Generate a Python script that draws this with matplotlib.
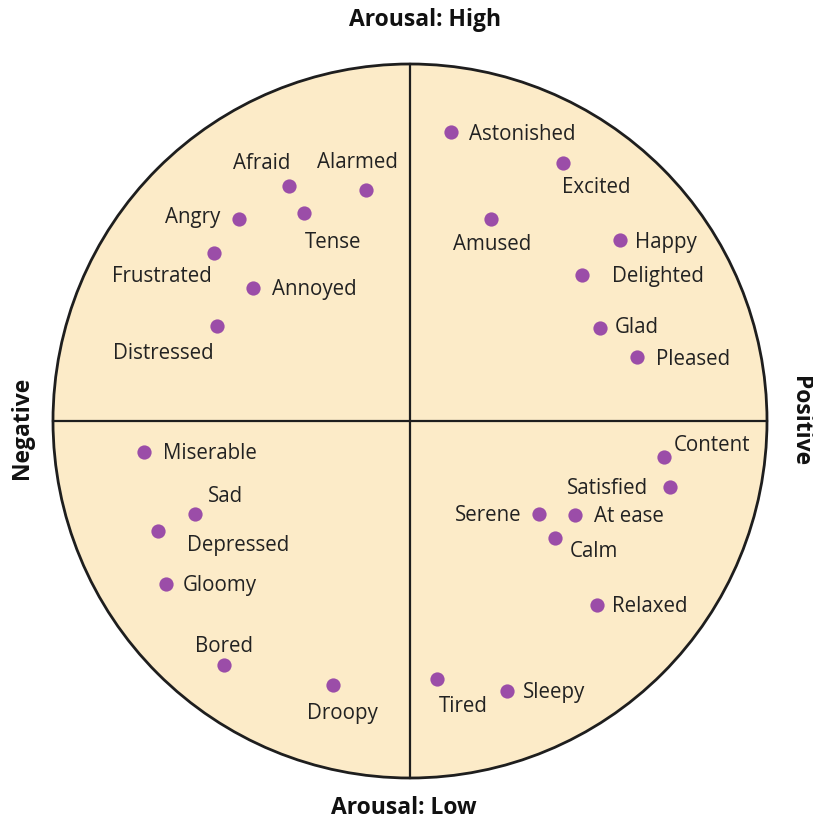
import matplotlib
matplotlib.use("Agg")
import matplotlib.pyplot as plt
from matplotlib.patches import Circle

# Emotion words on the valence (x) / arousal (y) plane, unit circle
words = ["Afraid", "Alarmed", "Angry", "Tense", "Frustrated", "Annoyed", "Distressed",
         "Astonished", "Excited", "Amused", "Happy", "Delighted", "Glad", "Pleased",
         "Miserable", "Sad", "Depressed", "Gloomy", "Bored", "Droopy",
         "Content", "Satisfied", "Serene", "At ease", "Calm", "Relaxed", "Tired", "Sleepy"]
valence = [-0.339, -0.123, -0.479, -0.297, -0.549, -0.440, -0.541,
           0.115, 0.429, 0.227, 0.588, 0.482, 0.532, 0.636,
           -0.745, -0.602, -0.706, -0.683, -0.521, -0.216,
           0.711, 0.728, 0.361, 0.462, 0.406, 0.524, 0.076, 0.272]
arousal = [0.658, 0.647, 0.566, 0.583, 0.471, 0.373, 0.266,
           0.810, 0.723, 0.566, 0.507, 0.409, 0.261, 0.179,
           -0.087, -0.261, -0.308, -0.457, -0.683, -0.739,
           -0.101, -0.185, -0.261, -0.263, -0.328, -0.515, -0.723, -0.756]
axis_labels = {"top": "Arousal: High", "bottom": "Arousal: Low",
               "left": "Negative", "right": "Positive"}

# label placement (pixel offsets, y downward) and alignment
label_dx = [-27, -9, -19, 29, -52, 19, -54,
            18, 33, 1, 15, 30, 15, 19,
            19, 30, 29, 17, 0, 9,
            10, -22, -17, 19, 15, 15, 26, 16]
label_dy = [-24, -29, -3, 28, 22, 0, 26,
            1, 23, 24, 1, 0, -2, 1,
            0, -19, 13, 0, -20, 27,
            -13, 0, 0, 0, 12, 0, 26, 0]
label_ha = ["center", "center", "right", "center", "center", "left", "center",
            "left", "center", "center", "left", "left", "left", "left",
            "left", "center", "left", "left", "center", "center",
            "left", "right", "right", "left", "left", "left", "center", "left"]

W, H = 813, 823
CX, CY, R = 410, 421, 357

fig = plt.figure(figsize=(W / 100, H / 100), dpi=100)
ax = fig.add_axes([0, 0, 1, 1])
ax.set_xlim(-CX / R, (W - CX) / R)
ax.set_ylim(-(H - CY) / R, CY / R)
ax.axis("off")

fill = "#FCEBC8"
edge = "#1e1e1e"
dot = "#9B4DA8"
txt = "#222222"

ax.add_patch(Circle((0, 0), 1.0, facecolor=fill, edgecolor=edge, lw=2.0, zorder=1))
ax.plot([-1, 1], [0, 0], color=edge, lw=1.6, zorder=2)
ax.plot([0, 0], [-1, 1], color=edge, lw=1.6, zorder=2)

ax.scatter(valence, arousal, s=105, color=dot, zorder=3, linewidths=0)

font = "Open Sans"
for w, x, y, dx, dy, ha in zip(words, valence, arousal, label_dx, label_dy, label_ha):
    ax.annotate(w, (x, y), xytext=(dx * 0.72, -(dy + 1.5) * 0.72), textcoords="offset points",
                ha=ha, va="center", fontsize=14.8, color=txt, family=font, zorder=4)

bold = dict(fontsize=16.5, fontweight="bold", color="#111111", family=font)
ax.text(0.05 / R * 300, (CY - 20) / R, axis_labels["top"], ha="center", va="center", **bold)
ax.text(-6 / R, -(808 - CY) / R, axis_labels["bottom"], ha="center", va="center", **bold)
ax.text(-(CX - 22) / R, -(428 - CY) / R, axis_labels["left"], ha="center", va="center",
        rotation=90, **bold)
ax.text((800 - CX) / R, 0.0, axis_labels["right"], ha="center", va="center",
        rotation=-90, **bold)

fig.savefig("out.png", dpi=100, facecolor="white")
